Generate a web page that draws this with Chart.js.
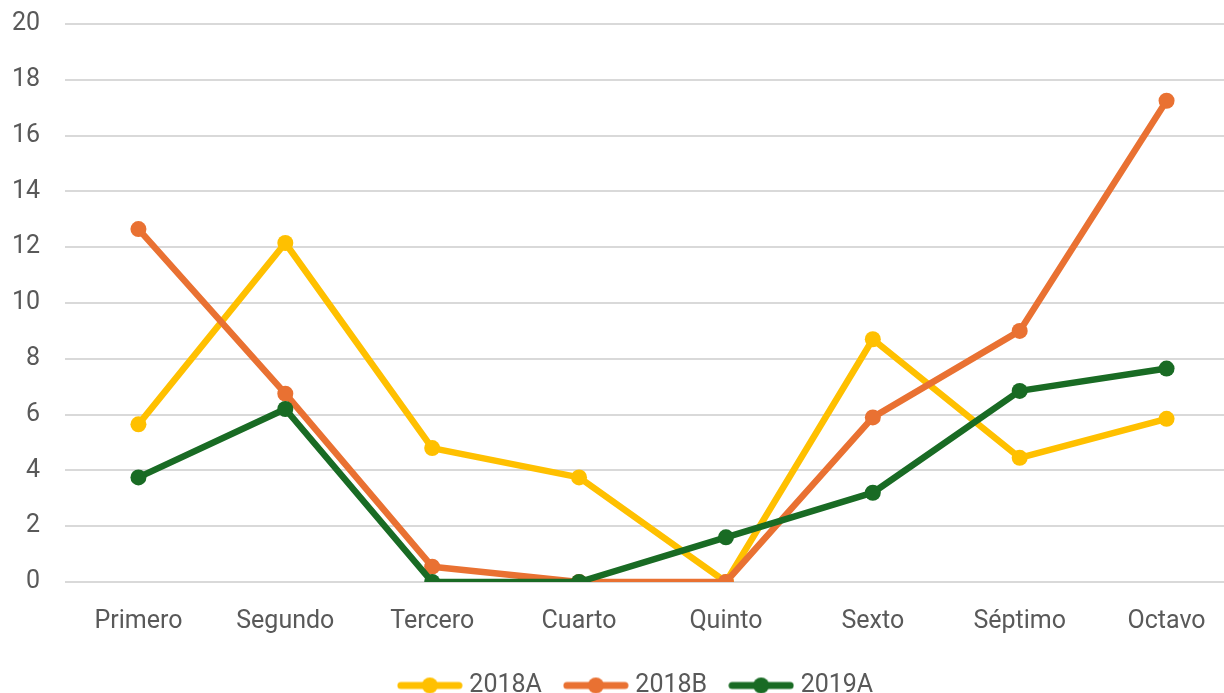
<!DOCTYPE html>
<html>
<head>
<meta charset="utf-8">
<script src="https://cdn.jsdelivr.net/npm/chart.js@4.4.1/dist/chart.umd.min.js"></script>
<style>
  html, body { margin: 0; padding: 0; background: #ffffff; overflow: hidden; }
  #wrap { width: 1248px; height: 710px; position: relative; }
</style>
</head>
<body>
<div id="wrap"><canvas id="c"></canvas></div>
<script>
const categories = ["Primero", "Segundo", "Tercero", "Cuarto", "Quinto", "Sexto", "Séptimo", "Octavo"];
const seriesNames = ["2018A", "2018B", "2019A"];
const values2018A = [5.65, 12.15, 4.8, 3.75, 0, 8.7, 4.45, 5.85];
const values2018B = [12.65, 6.75, 0.55, 0, 0, 5.9, 9.0, 17.25];
const values2019A = [3.75, 6.2, 0, 0, 1.6, 3.2, 6.85, 7.65];
const yTicks = [0, 2, 4, 6, 8, 10, 12, 14, 16, 18, 20];
const colors = ["#FFC000", "#E97132", "#196B24"];

const FONT = "Roboto, 'Liberation Sans', sans-serif";

function legendImage(color) {
  const cv = document.createElement('canvas');
  cv.width = 66; cv.height = 18;
  const g = cv.getContext('2d');
  g.strokeStyle = color; g.lineWidth = 7; g.lineCap = 'round';
  g.beginPath(); g.moveTo(4, 9); g.lineTo(62, 9); g.stroke();
  g.fillStyle = color;
  g.beginPath(); g.arc(33, 9, 8, 0, Math.PI * 2); g.fill();
  return cv;
}

const allValues = [values2018A, values2018B, values2019A];
const datasets = seriesNames.map((name, i) => ({
  label: name,
  data: allValues[i],
  borderColor: colors[i],
  backgroundColor: colors[i],
  borderWidth: 6.5,
  pointRadius: 8,
  pointHoverRadius: 8,
  pointBorderWidth: 0,
  pointBackgroundColor: colors[i],
  tension: 0,
  order: 3 - i,
  borderCapStyle: 'round',
  borderJoinStyle: 'round'
}));

const legendImgs = colors.map(legendImage);

const legendShift = {
  id: 'legendShift',
  afterLayout(chart) {
    const l = chart.legend;
    if (!l) return;
    l.left += 14; l.right += 14;
    l.top -= 2; l.bottom -= 2;
  }
};

new Chart(document.getElementById('c'), {
  type: 'line',
  data: { labels: categories, datasets },
  plugins: [legendShift],
  options: {
    responsive: true,
    maintainAspectRatio: false,
    animation: false,
    events: [],
    layout: { padding: { left: 0, right: 0, top: 24, bottom: 0 } },
    plugins: {
      tooltip: { enabled: false },
      legend: {
        position: 'bottom',
        labels: {
          usePointStyle: true,
          pointStyleWidth: 54,
          boxHeight: 18,
          padding: 27,
          color: '#595959',
          font: { family: FONT, size: 25 },
          generateLabels: (chart) => chart.data.datasets.map((ds, i) => ({
            text: ds.label,
            fillStyle: ds.borderColor,
            strokeStyle: ds.borderColor,
            lineWidth: 0,
            pointStyle: legendImgs[i],
            datasetIndex: i,
            fontColor: '#595959',
            hidden: false
          }))
        }
      }
    },
    scales: {
      x: {
        offset: true,
        afterFit: (s) => { s.height -= 14; },
        grid: { display: false, drawTicks: false },
        border: { display: false },
        ticks: { color: '#595959', font: { family: FONT, size: 25 }, padding: 25, maxRotation: 0 }
      },
      y: {
        min: 0,
        max: 20,
        afterFit: (s) => { s.width = 65; s.paddingTop = 0; s.paddingBottom = 0; },
        afterBuildTicks: (s) => { s.ticks = yTicks.map(v => ({ value: v })); },
        grid: { color: '#d9d9d9', lineWidth: 2, drawTicks: false },
        border: { display: false },
        ticks: { color: '#595959', font: { family: FONT, size: 25 }, padding: 25, stepSize: 2 }
      }
    }
  }
});
</script>
</body>
</html>
